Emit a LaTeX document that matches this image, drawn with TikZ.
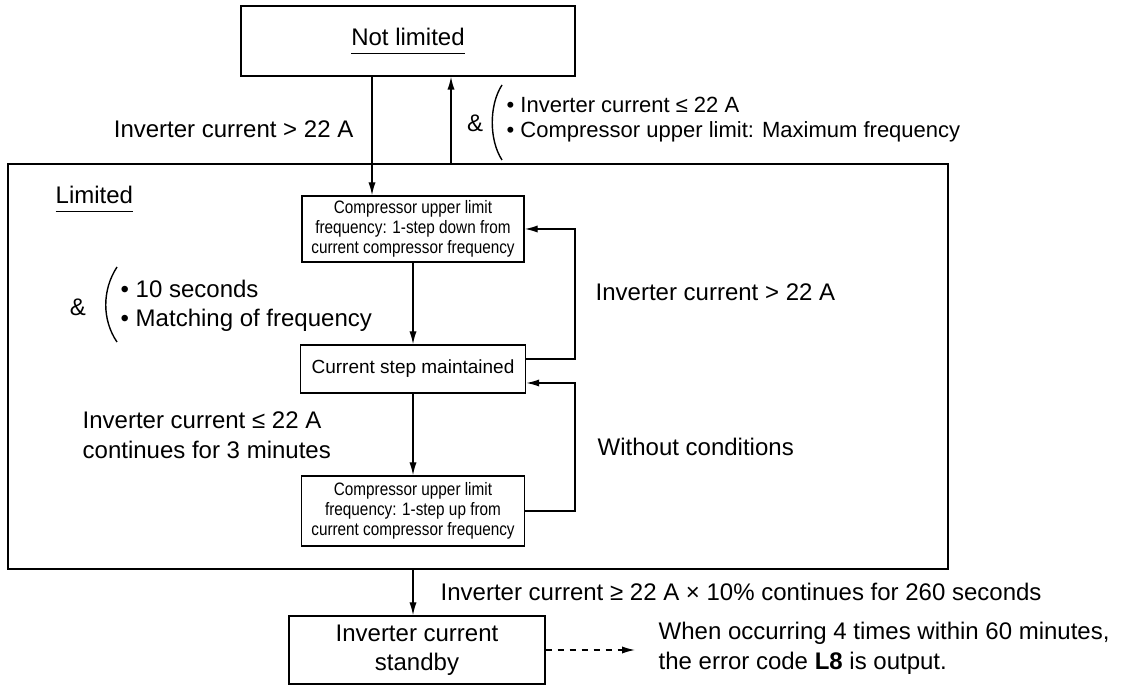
\documentclass[tikz,border=0pt]{standalone}
\usepackage{fontspec}
\setmainfont{Liberation Sans}
\newfontfamily\narrowsans[FakeStretch=0.85]{Liberation Sans}
\usetikzlibrary{arrows.meta, positioning}
\newcommand{\undl}[1]{\underline{#1\vphantom{g}}}

\begin{document}
\begin{tikzpicture}[x=0.5pt, y=-0.5pt, >={Latex[length=6.5pt,width=3.6pt]}, line width=0.7pt,
  font=\fontsize{12}{14.5}\selectfont,
  st/.style={draw, align=center, inner sep=2pt},
  stsm/.style={st, font=\narrowsans\fontsize{9}{10}\selectfont},
  lbl/.style={align=left, anchor=west, inner sep=0pt}]

  \useasboundingbox (0,0) rectangle (1125,694);

  \node[st, minimum width=167pt, minimum height=35pt] (notlim) at (408,41) {\undl{Not limited}};
  \node[st, minimum width=470pt, minimum height=202.5pt] (limbox) at (478,366.5) {};
  \node[lbl] (limlbl) at (55,199) {\undl{Limited}};

  \node[stsm, minimum width=111pt, minimum height=33pt] (stepdown) at (413,229)
    {Compressor upper limit\\frequency: 1-step down from\\current compressor frequency};
  \node[st, font=\fontsize{9.5}{11}\selectfont, minimum width=112.5pt, minimum height=24pt]
    (hold) at (413,369) {Current step maintained};
  \node[stsm, minimum width=111.5pt, minimum height=35pt] (stepup) at (413,511)
    {Compressor upper limit\\frequency: 1-step up from\\current compressor frequency};
  \node[st, minimum width=128pt, minimum height=34pt] (standby) at (417,650)
    {Inverter current\\standby};

  \coordinate (dnx) at (372,0);
  \coordinate (upx) at (451,0);
  \coordinate (fbx) at (575,0);
  \coordinate (dashend) at (635,650);

  \draw[->] (dnx |- notlim.south) -- (dnx |- stepdown.north);
  \draw[->] (upx |- limbox.north) -- (upx |- notlim.south);
  \draw[->] (stepdown) -- (hold);
  \draw[->] (hold) -- (stepup);
  \draw[->] (stepup |- limbox.south) -- (stepup |- standby.north);
  \draw[->] ([yshift=5pt]hold.east) -| (fbx |- stepdown.east) -- (stepdown.east);
  \draw[->] (stepup.east) -| ([yshift=-7pt]fbx |- hold.east) -- ([yshift=-7pt]hold.east);
  \draw[->, dashed] (standby.east) -- (dashend);

  \node[lbl, anchor=east] (lblover) at (354,129) {Inverter current > 22 A};
  \node[inner sep=0pt] (ampTop) at (475,123) {\&};
  \draw (502,85) .. controls (489,105) and (489,140) .. (502,160);
  \node[lbl, font=\fontsize{11}{12.5}\selectfont] (condTop) at (506,120)
    {• Inverter current ≤ 22 A\\• Compressor upper limit: Maximum frequency};

  \node[inner sep=0pt] (ampLeft) at (78,307) {\&};
  \draw (117,267) .. controls (102,290) and (102,320) .. (117,342);
  \node[lbl] (condLeft) at (120,306) {• 10 seconds\\• Matching of frequency};

  \node[lbl, font=\fontsize{12}{15}\selectfont] (lblunder) at (82,435)
    {Inverter current ≤ 22 A\\continues for 3 minutes};
  \node[lbl] (lblrepeat) at (595,292) {Inverter current > 22 A};
  \node[lbl] (lblfree) at (597,447) {Without conditions};
  \node[lbl] (lblstandby) at (440,592) {Inverter current ≥ 22 A × 10\% continues for 260 seconds};
  \node[lbl, font=\fontsize{12}{15}\selectfont] (lblerror) at (658,648)
    {When occurring 4 times within 60 minutes,\\the error code \textbf{L8} is output.};

\end{tikzpicture}
\end{document}
